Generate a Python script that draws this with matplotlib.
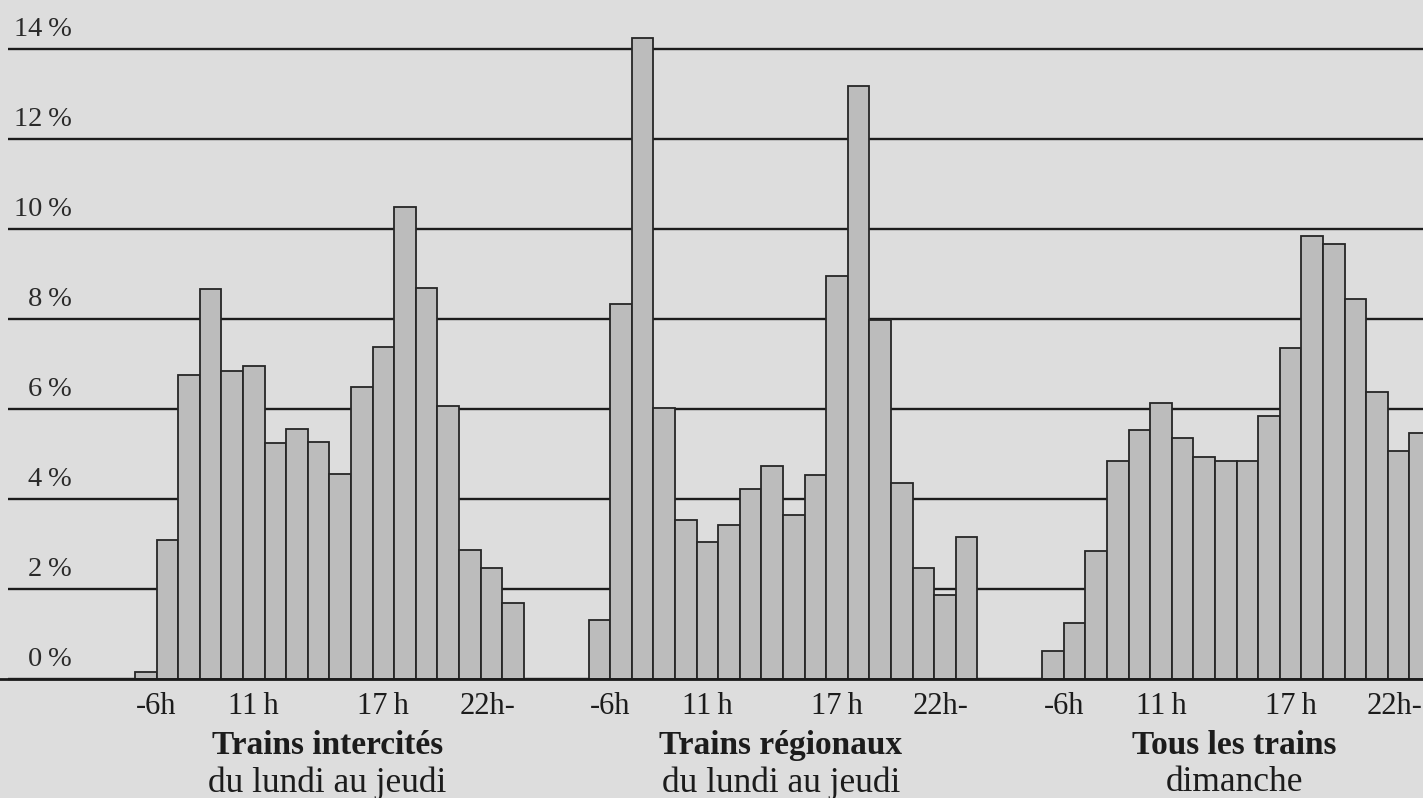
import matplotlib
matplotlib.use("Agg")
import matplotlib.pyplot as plt
import numpy as np

# ---- data (percent of daily travellers per hour slot) ----
hours = ["-6h", "6h", "7h", "8h", "9h", "10h", "11h", "12h", "13h", "14h",
         "15h", "16h", "17h", "18h", "19h", "20h", "21h", "22h-"]
intercites = [0.15, 3.1, 6.75, 8.66, 6.84, 6.96, 5.25, 5.56, 5.26, 4.55,
              6.48, 7.37, 10.5, 8.68, 6.07, 2.86, 2.46, 1.68]
regionaux = [1.31, 8.33, 14.25, 6.03, 3.54, 3.04, 3.43, 4.23, 4.74, 3.64,
             4.54, 8.96, 13.17, 7.97, 4.35, 2.46, 1.87, 3.16]
dimanche = [0.63, 1.25, 2.84, 4.84, 5.53, 6.13, 5.35, 4.94, 4.84, 4.84,
            5.85, 7.36, 9.85, 9.66, 8.45, 6.37, 5.07, 5.47]
series = [intercites, regionaux, dimanche]
titles = ["Trains intercités", "Trains régionaux", "Tous les trains"]
subtitles = ["du lundi au jeudi", "du lundi au jeudi", "dimanche"]
tick_labels = ["-6h", "11\u2009h", "17\u2009h", "22h-"]
yticks = [0, 2, 4, 6, 8, 10, 12, 14]

SERIF = ["Liberation Serif", "DejaVu Serif"]
plt.rcParams["font.family"] = SERIF

bg = "#dddddd"
ink = "#1c1c1c"
fig = plt.figure(figsize=(14.23, 7.98), dpi=100)
fig.patch.set_facecolor(bg)
ax = fig.add_axes([0, 0, 1, 1])
ax.set_facecolor(bg)
ax.set_xlim(-6.25, 59.63)
ax.set_ylim(-2.644, 15.09)
ax.axis("off")

# gridlines
ax.hlines(yticks, -5.88, 59.63, colors=ink, linewidth=1.7, zorder=1)
for t in yticks:
    ax.text(-2.92, t + 0.29, f"{t}\u2009%", ha="right", va="baseline",
            fontsize=20.5, color="#2a2a2a")

group_len = 21
tick_pos = [1.0, 5.5, 11.5, 16.3]
for g, vals in enumerate(series):
    off = g * group_len
    x = off + np.arange(len(vals))
    ax.bar(x, vals, width=1.0, align="edge", color="#bcbcbc",
           edgecolor="#262626", linewidth=1.3, zorder=2)
    for p, lab in zip(tick_pos, tick_labels):
        ax.text(off + p, -0.62, lab, ha="center", va="center",
                fontsize=22, color=ink)
    ax.text(off + 8.9, -1.47, titles[g], ha="center", va="center",
            fontsize=24, fontweight="bold", color=ink)
    ax.text(off + 8.9, -2.31, subtitles[g], ha="center", va="center",
            fontsize=25.5, color=ink)

ax.axhline(0, color=ink, linewidth=2.0, zorder=3)

fig.savefig("out.png", dpi=100, facecolor=bg)
